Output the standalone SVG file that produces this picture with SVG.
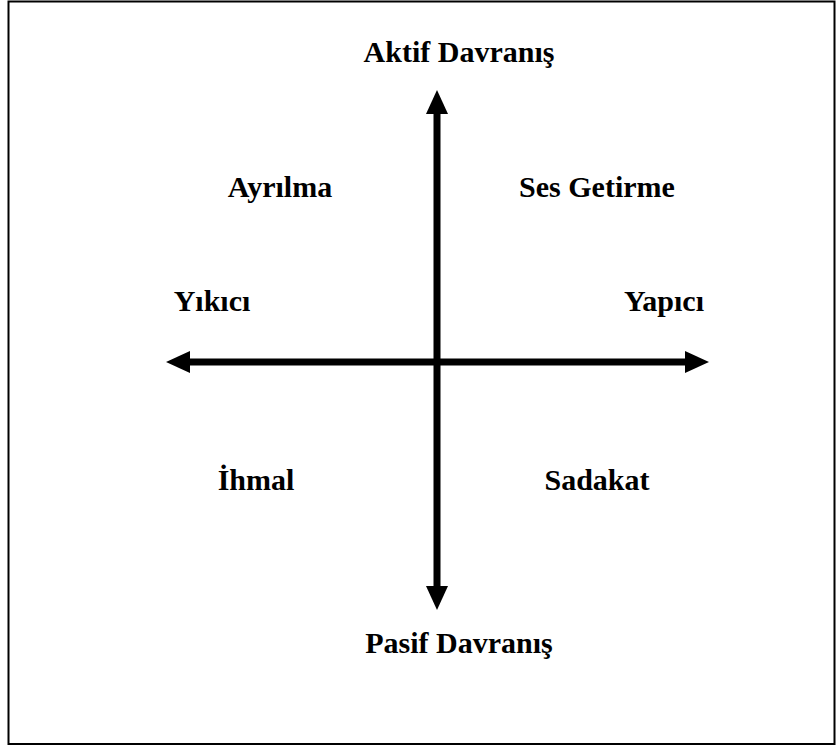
<svg xmlns="http://www.w3.org/2000/svg" width="836" height="746" viewBox="0 0 836 746">
<style>
.t{font-family:"Liberation Serif","Times New Roman",serif;font-weight:bold;font-size:30px;fill:#000;text-anchor:middle}
.ax{stroke:#000;stroke-width:7;fill:none}
</style>
<defs>
<marker id="ah" viewBox="0 0 24 22" refX="0" refY="11" markerWidth="24" markerHeight="22" markerUnits="userSpaceOnUse" orient="auto">
<path d="M0,0 L24,11 L0,22 Z" fill="#000"/>
</marker>
</defs>
<rect x="8.5" y="1.5" width="826" height="742.5" fill="#fff" stroke="#000" stroke-width="2"/>
<g id="connectors">
<line class="ax" x1="437" y1="362" x2="437" y2="114" marker-end="url(#ah)"/>
<line class="ax" x1="437" y1="362" x2="437" y2="586" marker-end="url(#ah)"/>
<line class="ax" x1="437" y1="362" x2="190" y2="362" marker-end="url(#ah)"/>
<line class="ax" x1="437" y1="362" x2="685" y2="362" marker-end="url(#ah)"/>
</g>
<g id="aktif"><text class="t" x="459" y="62">Aktif Davranış</text></g>
<g id="pasif"><text class="t" x="459" y="653">Pasif Davranış</text></g>
<g id="ayrilma"><text class="t" x="280" y="197">Ayrılma</text></g>
<g id="ses"><text class="t" x="597" y="197">Ses Getirme</text></g>
<g id="yikici"><text class="t" x="212" y="311">Yıkıcı</text></g>
<g id="yapici"><text class="t" x="664" y="311">Yapıcı</text></g>
<g id="ihmal"><text class="t" x="256" y="490">İhmal</text></g>
<g id="sadakat"><text class="t" x="597" y="490">Sadakat</text></g>
</svg>
